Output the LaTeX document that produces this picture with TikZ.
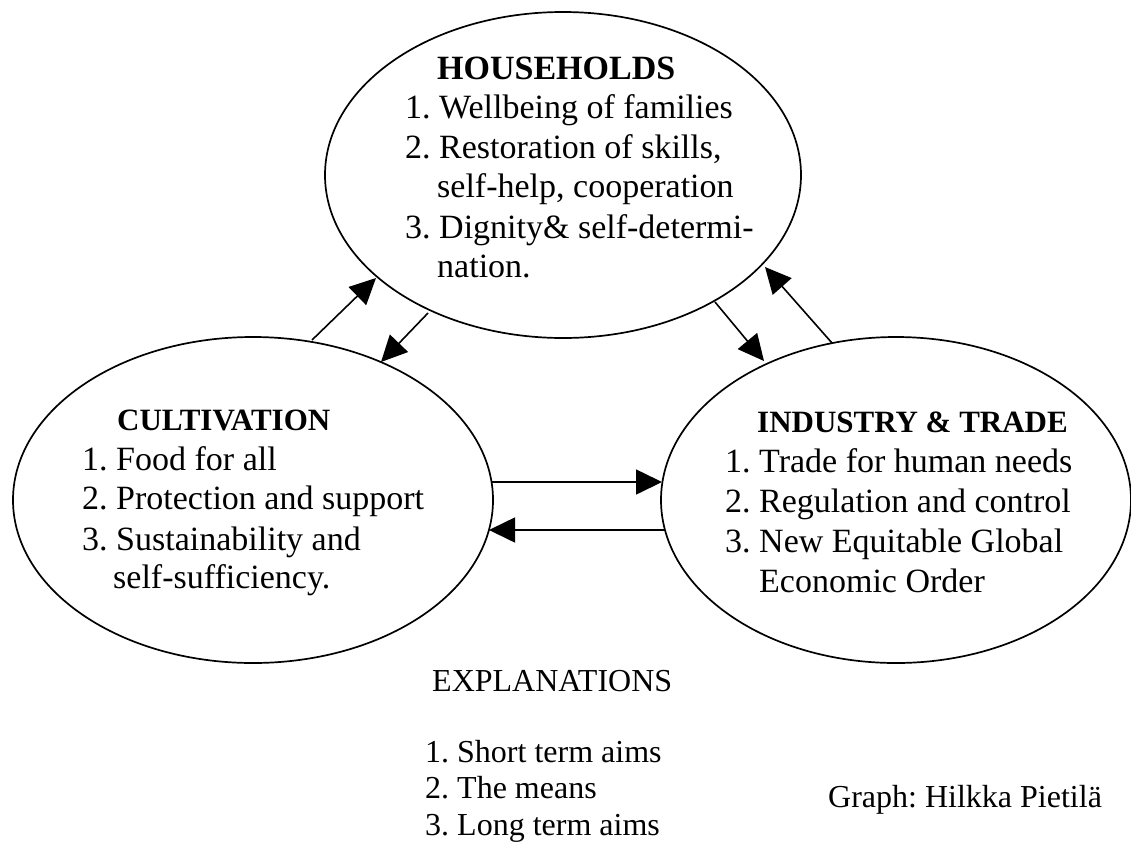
\documentclass[tikz,border=0pt]{standalone}
\usepackage{fontspec}
\setmainfont{Liberation Serif}
\usetikzlibrary{shapes.geometric,arrows.meta}
\frenchspacing
\tikzset{
  sector/.style={ellipse, draw, line width=1.7pt, inner sep=0pt, outer sep=0pt,
                 minimum width=#1, minimum height=326pt},
  flow/.style={line width=1.6pt, -{Triangle[length=26pt,width=25pt]}},
  txt/.style={anchor=base west, inner sep=0pt, font=\fontsize{34}{40}\selectfont},
  hdbig/.style={anchor=base west, inner sep=0pt, font=\fontsize{34}{40}\selectfont\bfseries},
  hd/.style={anchor=base west, inner sep=0pt, font=\fontsize{31}{37}\selectfont\bfseries},
  note/.style={anchor=base west, inner sep=0pt, font=\fontsize{32}{37}\selectfont},
}
\begin{document}
\begin{tikzpicture}[x=1pt,y=-1pt]
\useasboundingbox (0,0) rectangle (1131,841);
% ellipses
\node[sector=476pt] (hh) at (563,175) {};
\node[sector=480pt] (cult) at (253,500) {};
\node[sector=470pt] (ind) at (896,500) {};
% connectors
\draw[flow] ([shift={(59,-160)}]cult.center) -- ([shift={(-187,103)}]hh.center);
\draw[flow] ([shift={(-135,138)}]hh.center) -- ([shift={(128,-138)}]cult.center);
\draw[flow] ([shift={(152,127)}]hh.center) -- ([shift={(-132,-139)}]ind.center);
\draw[flow] ([shift={(-64,-157)}]ind.center) -- ([shift={(202,92)}]hh.center);
\draw[flow] ([shift={(239,-18)}]cult.center) -- ([shift={(-234,-18)}]ind.center);
\draw[flow] ([shift={(-231,30)}]ind.center) -- ([shift={(236,30)}]cult.center);
% households text
\node[hdbig] (hhT) at (437,79) {HOUSEHOLDS};
\node[txt] (hh1) at (405,118) {1. Wellbeing of families};
\node[txt] (hh2) at (405,158) {2. Restoration of skills,};
\node[txt] (hh2b) at (437,197) {self-help, cooperation};
\node[txt] (hh3) at (405,238) {3. Dignity\& self-determi-};
\node[txt] (hh3b) at (437,277) {nation.};
% cultivation text
\node[hd] (cuT) at (117,430) {CULTIVATION};
\node[txt] (cu1) at (82,470) {1. Food for all};
\node[txt] (cu2) at (82,509) {2. Protection and support};
\node[txt] (cu3) at (82,550) {3. Sustainability and};
\node[txt] (cu3b) at (113,588) {self-sufficiency.};
% industry text
\node[hd] (inT) at (757,432) {INDUSTRY \& TRADE};
\node[txt] (in1) at (725,472) {1. Trade for human needs};
\node[txt] (in2) at (725,512) {2. Regulation and control};
\node[txt] (in3) at (725,552) {3. New Equitable Global};
\node[txt] (in3b) at (759,592) {Economic Order};
% explanations
\node[note] (ex) at (432,691) {EXPLANATIONS};
\node[note] (ex1) at (425,762) {1. Short term aims};
\node[note] (ex2) at (425,798) {2. The means};
\node[note] (ex3) at (425,835) {3. Long term aims};
\node[note] (credit) at (828,807) {Graph: Hilkka Pietilä};
\end{tikzpicture}
\end{document}
